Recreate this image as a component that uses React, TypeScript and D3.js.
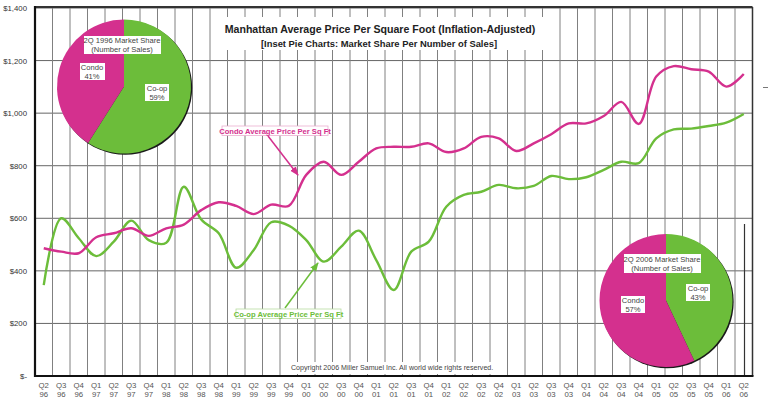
import React from "react";
import * as d3 from "d3";

const quarters = [
  "Q2 96","Q3 96","Q4 96","Q1 97","Q2 97","Q3 97","Q4 97","Q1 98","Q2 98","Q3 98","Q4 98",
  "Q1 99","Q2 99","Q3 99","Q4 99","Q1 00","Q2 00","Q3 00","Q4 00","Q1 01","Q2 01","Q3 01",
  "Q4 01","Q1 02","Q2 02","Q3 02","Q4 02","Q1 03","Q2 03","Q3 03","Q4 03","Q1 04","Q2 04",
  "Q3 04","Q4 04","Q1 05","Q2 05","Q3 05","Q4 05","Q1 06","Q2 06"
];

const condo = [
  486, 473, 467, 528, 543, 562, 533, 562, 576, 631, 661, 647, 616, 652, 647, 765, 815, 765, 815, 866,
  872, 872, 885, 852, 866, 910, 904, 856, 885, 920, 961, 961, 989, 1043, 959, 1139, 1179, 1167, 1158, 1101, 1149
];

const coop = [
  346, 600, 524, 456, 511, 591, 517, 507, 720, 595, 543, 412, 479, 585, 572, 517, 435, 492, 553, 441,
  327, 473, 511, 644, 689, 701, 727, 714, 723, 761, 749, 756, 784, 815, 810, 904, 938, 941, 951, 964, 997
];

const yTicks = [0, 200, 400, 600, 800, 1000, 1200, 1400];

const pie1996 = [
  { label: "Co-op", value: 59 },
  { label: "Condo", value: 41 },
];
const pie2006 = [
  { label: "Co-op", value: 43 },
  { label: "Condo", value: 57 },
];

const MAGENTA = "#d4308e";
const GREEN = "#6cbd3a";
const FONT = "'Liberation Sans', Arial, Helvetica, sans-serif";

const W = 768;
const H = 403;
const L = 35;
const R = 752.5;
const T = 8;
const B = 376;

export default function App() {
  const x = d3.scaleBand<string>().domain(quarters).range([L, R]).padding(0);
  const y = d3.scaleLinear().domain([0, 1400]).range([B, T]);
  const cx = (i: number) => (x(quarters[i]) as number) + x.bandwidth() / 2;

  const line = d3
    .line<number>()
    .x((_, i) => cx(i))
    .y((d) => y(d))
    .curve(d3.curveCatmullRom.alpha(0.5));

  const pieGen = d3
    .pie<{ label: string; value: number }>()
    .sort(null)
    .value((d) => d.value);

  const fmt = (v: number) => (v === 0 ? "$-" : "$" + d3.format(",")(v));

  const boundaries = quarters.map((_, i) => L + x.bandwidth() * (i + 1));

  const renderPie = (
    data: { label: string; value: number }[],
    pcx: number,
    pcy: number,
    r: number
  ) => {
    const arc = d3.arc<d3.PieArcDatum<{ label: string; value: number }>>().innerRadius(0).outerRadius(r);
    return (
      <g>
        <circle cx={pcx + 1.2} cy={pcy + 1.2} r={r} fill="#1a1a1a" />
        {pieGen(data).map((a, i) => (
          <path
            key={i}
            d={arc(a) as string}
            transform={`translate(${pcx},${pcy})`}
            fill={a.data.label === "Condo" ? MAGENTA : GREEN}
          />
        ))}
      </g>
    );
  };

  const boxLabel = (
    lines: string[],
    bx: number,
    by: number,
    bw: number,
    bh: number,
    tx: number,
    ty: number,
    lh: number
  ) => (
    <g>
      <rect x={bx} y={by} width={bw} height={bh} fill="#fff" />
      {lines.map((s, i) => (
        <text
          key={i}
          x={tx}
          y={ty + i * lh}
          textAnchor="middle"
          fontSize={7.6}
          fill="#444"
          fontFamily={FONT}
        >
          {s}
        </text>
      ))}
    </g>
  );

  return (
    <svg
      width={W}
      height={H}
      style={{ position: "absolute", left: 0, top: 0, background: "#fff" }}
      fontFamily={FONT}
    >
      <defs>
        <marker id="arrM" viewBox="0 0 10 10" refX="9" refY="5" markerWidth="6" markerHeight="6" orient="auto">
          <path d="M0,1 L10,5 L0,9 z" fill={MAGENTA} />
        </marker>
        <marker id="arrG" viewBox="0 0 10 10" refX="9" refY="5" markerWidth="6" markerHeight="6" orient="auto">
          <path d="M0,1 L10,5 L0,9 z" fill={GREEN} />
        </marker>
      </defs>

      {/* horizontal gridlines */}
      {yTicks.map((t) => (
        <line key={"h" + t} x1={L} x2={R} y1={y(t)} y2={y(t)} stroke="#666" strokeWidth={1} />
      ))}
      {/* vertical gridlines */}
      {boundaries.map((bx, i) => (
        <line key={"v" + i} x1={bx} x2={bx} y1={T} y2={B} stroke="#808080" strokeWidth={1} />
      ))}

      {/* title background and text */}
      <rect x={212} y={17} width={334} height={33} fill="#fff" />
      <text x={380} y={33} textAnchor="middle" fontSize={10.6} fontWeight="bold" fill="#222">
        Manhattan Average Price Per Square Foot (Inflation-Adjusted)
      </text>
      <text x={379} y={47} textAnchor="middle" fontSize={9.4} fontWeight="bold" fill="#222">
        [Inset Pie Charts: Market Share Per Number of Sales]
      </text>

      {/* copyright */}
      <rect x={288} y={362} width={210} height={12} fill="#fff" />
      <text x={291} y={370} fontSize={7.1} fill="#444">
        Copyright 2006 Miller Samuel Inc.  All world wide rights reserved.
      </text>

      {/* series lines */}
      <path d={line(coop) as string} fill="none" stroke={GREEN} strokeWidth={2.4} />
      <path d={line(condo) as string} fill="none" stroke={MAGENTA} strokeWidth={2.4} />

      {/* frame */}
      <line x1={L} x2={R} y1={T - 1} y2={T - 1} stroke="#333" strokeWidth={2} />
      <line x1={R} x2={R} y1={T - 1} y2={B} stroke="#333" strokeWidth={1.5} />
      <line x1={744.5} x2={744.5} y1={224} y2={B} stroke="#333" strokeWidth={1.2} />
      <line x1={L} x2={L} y1={T - 2} y2={B + 1} stroke="#111" strokeWidth={2.2} />
      <line x1={L - 1} x2={R + 1} y1={B} y2={B} stroke="#111" strokeWidth={2.2} />
      <line x1={763} x2={768} y1={87.5} y2={87.5} stroke="#777" strokeWidth={1} />

      {/* y axis labels */}
      {yTicks.map((t) => (
        <text key={"yl" + t} x={27} y={y(t) + 3} textAnchor="end" fontSize={7.8} fill="#333">
          {fmt(t)}
        </text>
      ))}

      {/* x axis labels */}
      {quarters.map((q, i) => {
        const [a, b] = q.split(" ");
        return (
          <g key={"xl" + i}>
            <text x={cx(i)} y={388} textAnchor="middle" fontSize={7.8} fill="#555">
              {a}
            </text>
            <text x={cx(i)} y={397} textAnchor="middle" fontSize={7.8} fill="#555">
              {b}
            </text>
          </g>
        );
      })}

      {/* pies */}
      {renderPie(pie1996, 124, 86.5, 67)}
      {boxLabel(["2Q 1996 Market Share", "(Number of Sales)"], 84, 36, 77, 18, 122, 43, 8.5)}
      {boxLabel(["Condo", "41%"], 80, 63, 25, 17, 92, 70, 8.5)}
      {boxLabel(["Co-op", "59%"], 145, 84, 24, 17, 157, 91, 8.5)}

      {renderPie(pie2006, 666, 300.5, 66.5)}
      {boxLabel(["2Q 2006 Market Share", "(Number of Sales)"], 624, 254, 77, 19, 662, 262, 8.5)}
      {boxLabel(["Condo", "57%"], 621, 296, 24, 17, 633, 303, 8.5)}
      {boxLabel(["Co-op", "43%"], 686, 284, 24, 17, 698, 291, 8.5)}

      {/* annotations */}
      <line x1={268} y1={136} x2={298} y2={175} stroke={MAGENTA} strokeWidth={1.5} markerEnd="url(#arrM)" />
      <rect x={222} y={126} width={106} height={9.5} fill="#fff" stroke="#eab0d0" strokeWidth={0.8} />
      <text x={275} y={133.5} textAnchor="middle" fontSize={7.6} fontWeight="bold" fill={MAGENTA}>
        Condo Average Price Per Sq Ft
      </text>

      <line x1={285} y1={308} x2={318} y2={263} stroke={GREEN} strokeWidth={1.5} markerEnd="url(#arrG)" />
      <rect x={236} y={309} width={105} height={9.5} fill="#fff" stroke="#b8dca0" strokeWidth={0.8} />
      <text x={288.5} y={316.5} textAnchor="middle" fontSize={7.6} fontWeight="bold" fill={GREEN}>
        Co-op Average Price Per Sq Ft
      </text>
    </svg>
  );
}
